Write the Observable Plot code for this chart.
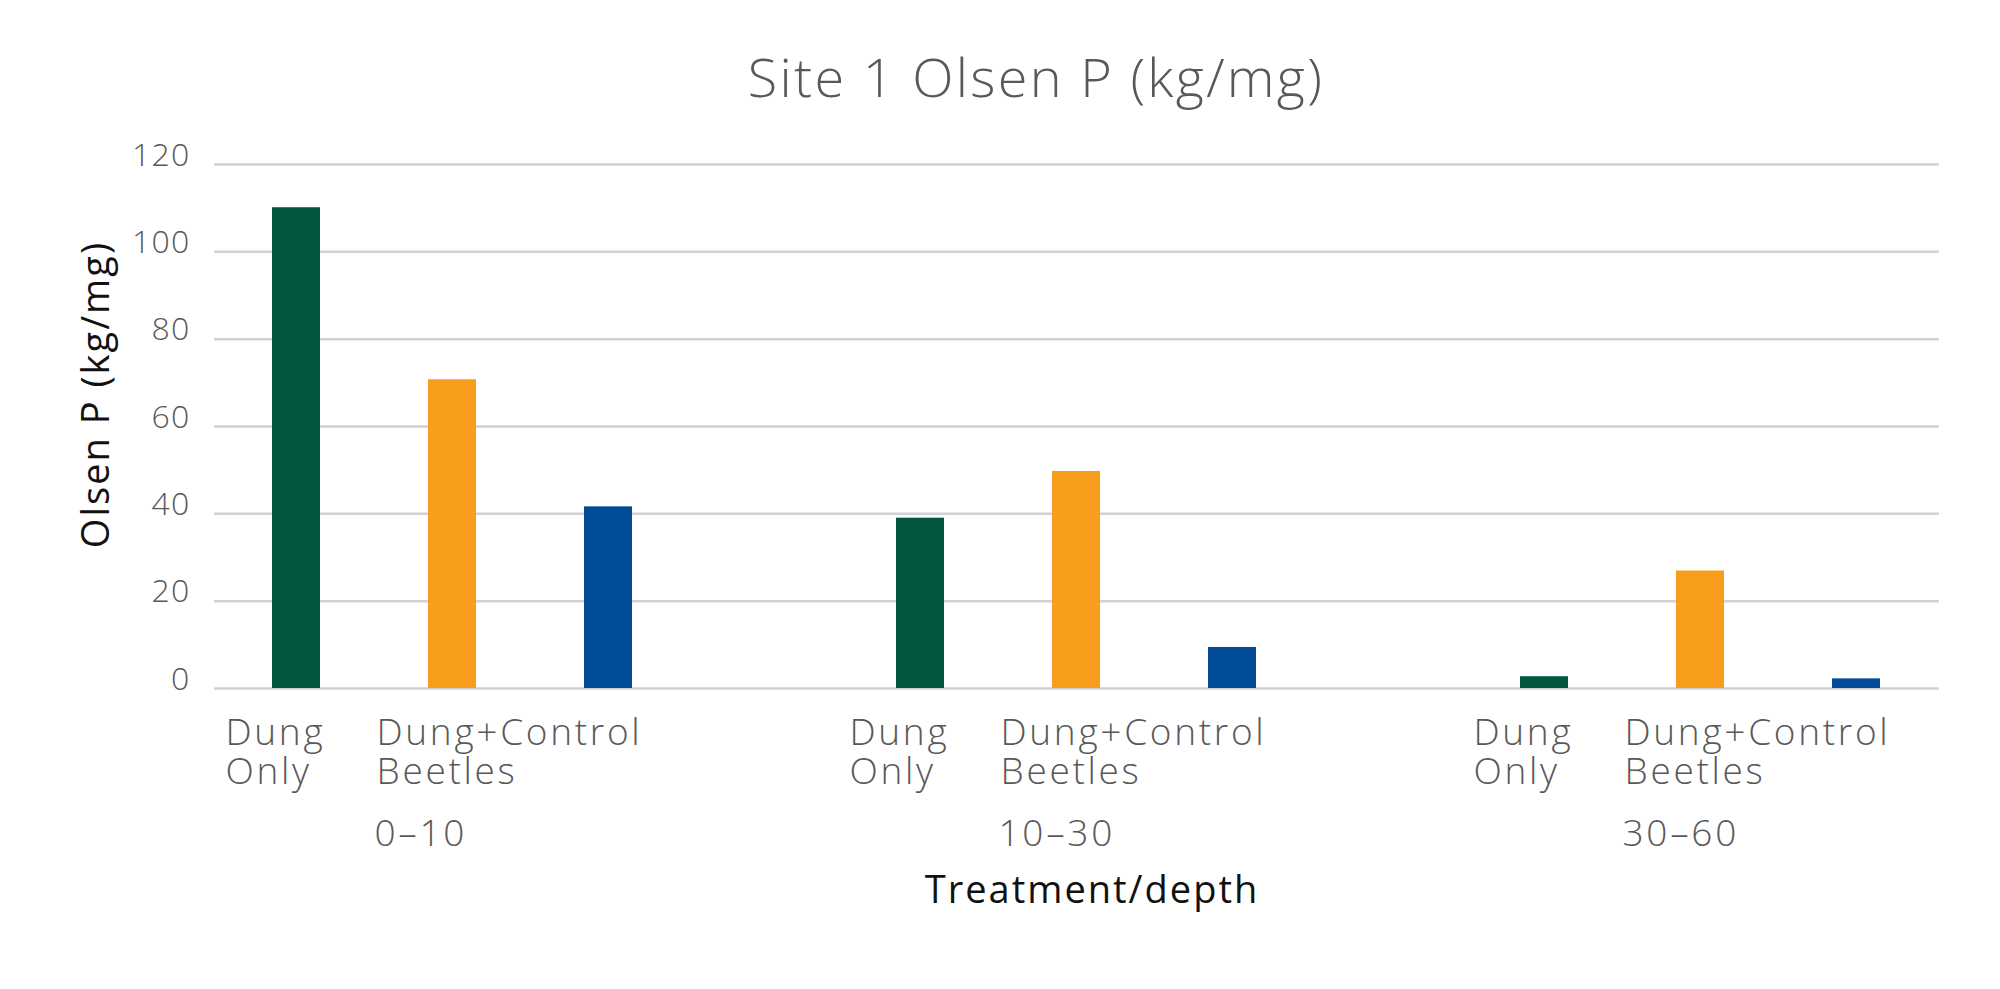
<!DOCTYPE html>
<html>
<head>
<meta charset="utf-8">
<script src="https://cdn.jsdelivr.net/npm/d3@7"></script>
<script src="https://cdn.jsdelivr.net/npm/@observablehq/plot@0.6"></script>
<style>
  html, body { margin: 0; padding: 0; background: #ffffff; }
  #chart svg { display: block; }
  /* letter spacing per text group (groups are told apart by their font size) */
  #chart g[font-size="32"] text { letter-spacing: 1.2px; }
  #chart g[font-size="37"] text { letter-spacing: 2.7px; }
  #chart g[font-size="38"] text { letter-spacing: 2px; }
  #chart g[font-size="54"] text { letter-spacing: 2.3px; }
</style>
</head>
<body>
<div id="chart"></div>
<script>
// ---- data ----
const chartTitle = "Site 1 Olsen P (kg/mg)";
const yTitle = "Olsen P (kg/mg)";
const xTitle = "Treatment/depth";
const depths = ["0–10", "10–30", "30–60"];
const treatments = ["Dung Only", "Dung+Control Beetles", "Series 3"];
const treatmentLabels = ["Dung\nOnly", "Dung+Control\nBeetles", ""];
const dungOnly = [110.1, 39.0, 2.7];
const dungControlBeetles = [70.7, 49.7, 26.9];
const series3 = [41.6, 9.4, 2.2];
const yTicks = [0, 20, 40, 60, 80, 100, 120];
const colors = ["#03573f", "#f99d1c", "#014c98"];

// ---- table built from the arrays ----
const seriesValues = [dungOnly, dungControlBeetles, series3];
const key = (depth, t) => depth + " | " + t;
const rows = [];
depths.forEach((depth, i) => {
  treatments.forEach((t, j) => {
    rows.push({depth, treatment: t, key: key(depth, t), value: seriesValues[j][i], label: treatmentLabels[j]});
  });
});
// category domain: each depth cluster, with an empty slot between clusters
const xDomain = [];
depths.forEach((depth, i) => {
  if (i > 0) xDomain.push("gap " + i);
  treatments.forEach(t => xDomain.push(key(depth, t)));
});
const depthRows = depths.map(depth => ({depth, key: key(depth, treatments[1])}));
const onlyRows = rows.filter(r => r.treatment === treatments[0]);
const beetleRows = rows.filter(r => r.treatment === treatments[1]);

const FONT = "'Open Sans', 'Noto Sans', sans-serif";
const TXT = "#595959";
const labelStyle = {
  frameAnchor: "bottom", textAnchor: "start", lineAnchor: "top",
  fontSize: 37, lineHeight: 1.07, fill: TXT, fontWeight: 300
};

const chart = Plot.plot({
  width: 2000,
  height: 989,
  marginLeft: 214,
  marginRight: 61,
  marginTop: 164,
  marginBottom: 301,
  style: {fontFamily: FONT, background: "#ffffff", overflow: "visible"},
  x: {domain: xDomain, paddingInner: 0.69, paddingOuter: 0.345, axis: null},
  y: {domain: [0, 120], axis: null},
  color: {domain: treatments, range: colors},
  marks: [
    Plot.ruleY(yTicks, {stroke: "#d2d2d2", strokeWidth: 2.5}),
    Plot.barY(rows, {x: "key", y: "value", fill: "treatment"}),
    Plot.text(yTicks, {
      y: d => d, text: d => String(d), frameAnchor: "left", textAnchor: "end",
      dx: -24, dy: -9, fontSize: 32, fill: TXT, fontWeight: 300
    }),
    Plot.text(onlyRows, {x: "key", text: "label", dx: -71, dy: 28, ...labelStyle}),
    Plot.text(beetleRows, {x: "key", text: "label", dx: -76, dy: 28, ...labelStyle}),
    Plot.text(depthRows, {
      x: "key", text: "depth",
      frameAnchor: "bottom", textAnchor: "start", lineAnchor: "top",
      dx: -78, dy: 131, fontSize: 37, fill: TXT, fontWeight: 300
    }),
    Plot.text([yTitle], {
      frameAnchor: "left", textAnchor: "middle", rotate: -90, dx: -118, dy: -32,
      fontSize: 38, fill: "#111111"
    }),
    Plot.text([xTitle], {
      frameAnchor: "bottom", textAnchor: "middle", lineAnchor: "middle", dx: 15, dy: 202,
      fontSize: 38, fill: "#111111"
    }),
    Plot.text([chartTitle], {
      frameAnchor: "top", textAnchor: "middle", lineAnchor: "middle", dx: -41, dy: -85,
      fontSize: 54, fill: TXT, fontWeight: 300
    })
  ]
});

document.getElementById("chart").appendChild(chart);
</script>
</body>
</html>
